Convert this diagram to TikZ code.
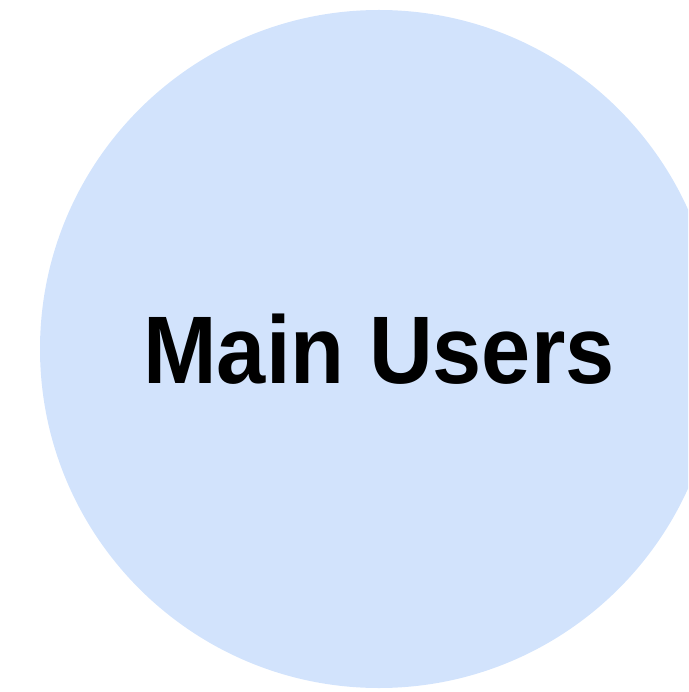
\documentclass[tikz,border=0pt]{standalone}
\usepackage{fontspec}
\setmainfont{Liberation Sans}
\usepackage{tikz}
\usetikzlibrary{positioning}
\definecolor{userblue}{HTML}{D2E3FC}

\begin{document}
\begin{tikzpicture}[
    x=1pt, y=-1pt,
    usercircle/.style={circle, fill=userblue, draw=none, minimum size=678pt, inner sep=0pt},
    label/.style={font=\fontsize{96}{110}\selectfont\bfseries, text=black, inner sep=0pt}
]

\useasboundingbox (0,0) rectangle (688,692);

% Circle, clipped on the right by the page
\begin{scope}
\clip (0,0) rectangle (688,692);
\node[usercircle] (users) at (379,349) {};
\end{scope}

% Label
\node[label] (title) at (users.center) {\scalebox{0.92}[1]{Main Users}};

\end{tikzpicture}
\end{document}
